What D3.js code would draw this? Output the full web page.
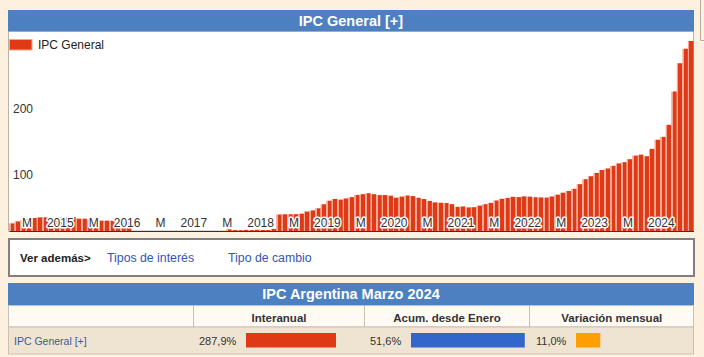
<!DOCTYPE html>
<html><head><meta charset="utf-8">
<script src="https://cdn.jsdelivr.net/npm/d3@7"></script>
<style>
body{margin:0;background:#fdf0df;}
svg{display:block;font-family:"Liberation Sans",Arial,sans-serif;}
</style>
</head><body>
<svg id="c" width="704" height="357"></svg>
<script>
// ---------- DATA ----------
const chartTitle = "IPC General [+]";
const seriesName = "IPC General";
const firstMonth = [2014, 0];   // Jan 2014
const lastMonth  = [2024, 2];   // Mar 2024
// Year-on-year CPI (%) per month, Jan 2014 .. Mar 2024 (null = no data)
const ipc2014 = [11.6, 14.6, 16.7, 18.3, 19.7, 20.7, 20.7, 20.5, 20.6, 20.8, 20.9, 21.0];
const ipc2015 = [18.7, 18.7, 17.5, 16.5, 15.7, 15.7, 15.6, 13.8, 13.6, 13.6, null, null];
const ipc2016 = [null, null, null, null, null, null, null, null, null, null, null, null];
const ipc2017 = [null, null, null, 2.6, 1.4, 1.2, 1.7, 1.4, 1.9, 1.5, 1.4, 3.1];
const ipc2018 = [25.0, 25.4, 25.4, 25.5, 26.3, 29.5, 31.2, 34.4, 40.5, 45.9, 48.5, 47.6];
const ipc2019 = [49.3, 51.3, 54.7, 55.8, 57.3, 55.8, 54.4, 54.5, 53.5, 50.5, 52.1, 53.8];
const ipc2020 = [52.9, 50.3, 48.4, 45.6, 43.4, 42.8, 42.4, 40.7, 36.6, 37.2, 35.8, 36.1];
const ipc2021 = [38.5, 40.7, 42.6, 46.3, 48.8, 50.2, 51.8, 51.4, 52.5, 52.1, 51.2, 50.9];
const ipc2022 = [50.7, 52.3, 55.1, 58.0, 60.7, 64.0, 71.0, 78.5, 83.0, 88.0, 92.4, 94.8];
const ipc2023 = [98.8, 102.5, 104.3, 108.8, 114.2, 115.6, 113.4, 124.4, 138.3, 142.7, 160.9, 211.4];
const ipc2024 = [254.2, 276.2, 287.9];
const yTicks = [100, 200];
const midYearLabel = "M";

const summaryTitle = "IPC Argentina Marzo 2024";
const summaryRowName = "IPC General [+]";
const summaryColumns = ["Interanual", "Acum. desde Enero", "Variación mensual"];
const summaryValues = [287.9, 51.6, 11.0];

const seeAlsoLabel = "Ver además>";
const seeAlsoLinks = ["Tipos de interés", "Tipo de cambio"];

// ---------- STYLE ----------
const BLUE = "#4d80c1", RED = "#df3a15", RED_LIGHT = "#f4a692";
const summaryColors = ["#df3a15", "#3366cc", "#ff9e00"];

const values = [].concat(ipc2014, ipc2015, ipc2016, ipc2017, ipc2018, ipc2019, ipc2020, ipc2021, ipc2022, ipc2023, ipc2024);
const months = d3.timeMonth.range(new Date(firstMonth[0], firstMonth[1], 1), new Date(lastMonth[0], lastMonth[1] + 1, 1));
const data = months.map((d, i) => ({date: d, value: values[i]}));

const svg = d3.select("#c");

// defs: bar gradient
const defs = svg.append("defs");
const g = defs.append("linearGradient").attr("id", "barGrad").attr("x1", "0").attr("x2", "1").attr("y1", "0").attr("y2", "0");
g.append("stop").attr("offset", "0").attr("stop-color", RED_LIGHT);
g.append("stop").attr("offset", "0.27").attr("stop-color", RED_LIGHT);
g.append("stop").attr("offset", "0.27").attr("stop-color", RED);
g.append("stop").attr("offset", "1").attr("stop-color", RED);

// odd top-right element
svg.append("path").attr("d", "M700.5,0V40.5H704").attr("fill", "none").attr("stroke", "#b5aca2");

// ---------- CHART PANEL ----------
svg.append("rect").attr("x", 8.5).attr("y", 31).attr("width", 685).attr("height", 200)
  .attr("fill", "#fff").attr("stroke", "#bdb2a6");
svg.append("rect").attr("x", 8).attr("y", 10).attr("width", 686).attr("height", 21.5).attr("fill", BLUE);
svg.append("text").attr("x", 351).attr("y", 25.5).attr("text-anchor", "middle")
  .attr("fill", "#fff").attr("font-weight", "bold").attr("font-size", "14.5px").text(chartTitle);

const x = d3.scaleBand().domain(data.map(d => d.date)).range([9, 693.5]).padding(0);
const y = d3.scaleLinear().domain([0, 300]).range([231, 33]);

svg.append("g").selectAll("rect").data(data.filter(d => d.value != null)).join("rect")
  .attr("x", d => x(d.date)).attr("width", x.bandwidth())
  .attr("y", d => y(d.value)).attr("height", d => y(0) - y(d.value))
  .attr("fill", "url(#barGrad)");

// y axis labels
const yAxis = svg.append("g").attr("transform", "translate(13,0)")
  .call(d3.axisRight(y).tickValues(yTicks).tickSize(0).tickPadding(0));
yAxis.select(".domain").remove();
yAxis.selectAll("text").attr("dy", "13px").attr("font-size", "12px").attr("font-family", null).attr("fill", "#333");

// x axis
const xAxis = svg.append("g").attr("transform", "translate(0,231)")
  .call(d3.axisBottom(x).tickValues([]).tickSizeOuter(0));
xAxis.select(".domain").attr("stroke", "#333").attr("stroke-width", 1.2);

const labelMonths = data.filter(d => (d.date.getMonth() === 0 || d.date.getMonth() === 6) && x(d.date) - 15.5 > 10);
svg.append("g").selectAll("text").data(labelMonths).join("text")
  .attr("x", d => x(d.date) - 15.5).attr("y", 226.5).attr("text-anchor", "middle")
  .attr("font-size", "12px").attr("fill", "#333")
  .attr("stroke", "#fff").attr("stroke-width", 3).attr("stroke-linejoin", "round").attr("paint-order", "stroke")
  .text(d => d.date.getMonth() === 0 ? d.date.getFullYear() : midYearLabel);

// legend
svg.append("rect").attr("x", 9.5).attr("y", 39.5).attr("width", 22.5).attr("height", 10.5)
  .attr("fill", RED).attr("stroke", RED_LIGHT);
svg.append("text").attr("x", 38).attr("y", 48.5).attr("font-size", "12px").attr("fill", "#222").text(seriesName);

// ---------- SEE ALSO BOX ----------
svg.append("rect").attr("x", 9).attr("y", 239).attr("width", 685).attr("height", 37)
  .attr("fill", "#fff").attr("stroke", "#808080").attr("stroke-width", 2);
svg.append("text").attr("x", 20).attr("y", 262).attr("font-size", "11.5px").attr("font-weight", "bold").attr("fill", "#222").text(seeAlsoLabel);
const linkX = [107, 228];
svg.append("g").selectAll("text").data(seeAlsoLinks).join("text")
  .attr("x", (d, i) => linkX[i]).attr("y", 262).attr("font-size", "12.3px").attr("fill", "#3656b3").text(d => d);

// ---------- SUMMARY TABLE ----------
svg.append("rect").attr("x", 8).attr("y", 283).attr("width", 686).attr("height", 22).attr("fill", BLUE);
svg.append("text").attr("x", 351).attr("y", 298.5).attr("text-anchor", "middle")
  .attr("fill", "#fff").attr("font-weight", "bold").attr("font-size", "14.5px").text(summaryTitle);

svg.append("rect").attr("x", 8.5).attr("y", 305.5).attr("width", 685).attr("height", 21.5).attr("fill", "#fffaf3").attr("stroke", "#c9bfb3");
svg.append("rect").attr("x", 8.5).attr("y", 327).attr("width", 685).attr("height", 27).attr("fill", "#efe3d1").attr("stroke", "#c9bfb3");
const colEdges = [193.5, 364.5, 529.5, 694];
colEdges.slice(0, 3).forEach(cx => {
  svg.append("line").attr("x1", cx).attr("x2", cx).attr("y1", 305.5).attr("y2", 327).attr("stroke", "#c9bfb3");
});
svg.append("g").selectAll("text").data(summaryColumns).join("text")
  .attr("x", (d, i) => (colEdges[i] + colEdges[i + 1]) / 2).attr("y", 321.5).attr("text-anchor", "middle")
  .attr("font-size", "11.5px").attr("font-weight", "bold").attr("fill", "#333").text(d => d);

svg.append("text").attr("x", 14).attr("y", 345).attr("font-size", "10.5px").attr("fill", "#3a5a9e").text(summaryRowName);

const esLocale = d3.formatLocale({decimal: ",", thousands: ".", grouping: [3], currency: ["", "€"]});
const fmt = v => esLocale.format(".1f")(v) + "%";
const valueX = [199, 370, 536];
const barX = [246, 411, 576];
const barScales = [
  d3.scaleLinear().domain([0, 100]).range([0, 31.26]),
  d3.scaleLinear().domain([0, 100]).range([0, 220.5]),
  d3.scaleLinear().domain([0, 100]).range([0, 220.5])
];
summaryValues.forEach((v, i) => {
  svg.append("text").attr("x", valueX[i]).attr("y", 345).attr("font-size", "11px").attr("fill", "#333").text(fmt(v));
  svg.append("rect").attr("x", barX[i]).attr("y", 333).attr("width", barScales[i](v)).attr("height", 14.5).attr("fill", summaryColors[i]);
});
</script>
</body></html>
